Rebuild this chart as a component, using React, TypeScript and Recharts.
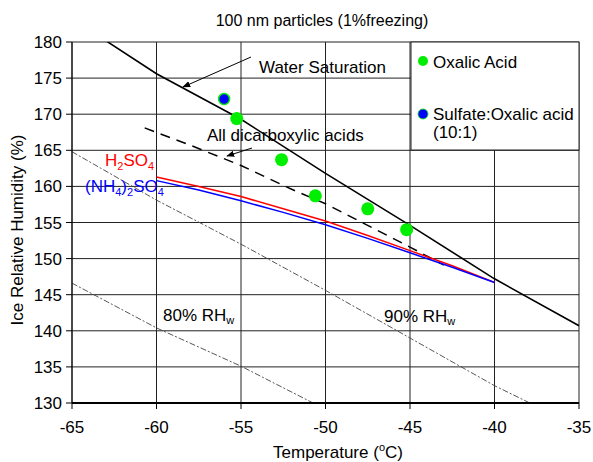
import React from "react";
import {
  ComposedChart,
  Line,
  Scatter,
  XAxis,
  YAxis,
  CartesianGrid,
} from "recharts";

// ─── DATA ─────────────────────────────────────────────────────────────────────

const TEMP_TICKS = [-65, -60, -55, -50, -45, -40, -35];
const RH_TICKS = [130, 135, 140, 145, 150, 155, 160, 165, 170, 175, 180];

// water saturation (solid black)
const WATER_T = [-63.6, -60, -55, -50, -45, -40, -35];
const WATER_RH = [181.1, 175.6, 169.3, 161.8, 154.6, 147.2, 140.7];

// all dicarboxylic acids (dashed black)
const DICARB_T = [-60.7, -58, -55, -52, -50, -45, -43];
const DICARB_RH = [168.1, 165.7, 162.9, 159.6, 157.6, 151.6, 149.1];

// H2SO4 (red)
const H2SO4_T = [-60, -57.5, -55, -52.5, -50, -47.5, -45, -42.5, -40];
const H2SO4_RH = [161.3, 160.0, 158.6, 156.9, 155.2, 153.2, 151.1, 149.0, 146.7];

// (NH4)2SO4 (blue)
const AS_T = [-60, -57.5, -55, -52.5, -50, -47.5, -45, -42.5, -40];
const AS_RH = [160.8, 159.5, 158.0, 156.4, 154.7, 152.8, 150.8, 148.8, 146.7];

// 90% RHw (thin dashed)
const RH90_T = [-65, -60, -55, -50, -45, -40, -37.3];
const RH90_RH = [164.8, 158.1, 152.0, 145.6, 139.0, 132.4, 129.3];

// 80% RHw (thin dashed)
const RH80_T = [-65, -60, -55, -50.15];
const RH80_RH = [146.6, 140.4, 135.1, 129.3];

// oxalic acid points
const OXALIC_T = [-55.25, -52.6, -50.6, -47.5, -45.2];
const OXALIC_RH = [169.4, 163.7, 158.7, 156.9, 154.0];

// sulfate:oxalic acid (10:1)
const SULF_OX_T = [-56.0];
const SULF_OX_RH = [172.1];

const zip = (xs: number[], ys: number[]) => xs.map((x, i) => ({ x, y: ys[i] }));

const FONT = "'Liberation Sans', Arial, sans-serif";
const GREEN = "#00ee00";

// ─── SHAPES ───────────────────────────────────────────────────────────────────

function OxalicDot(props: any) {
  const { cx, cy } = props;
  return <circle cx={cx} cy={cy} r={6.5} fill={GREEN} />;
}

function SulfDot(props: any) {
  const { cx, cy } = props;
  return <circle cx={cx} cy={cy} r={5.5} fill="#0000ff" stroke={GREEN} strokeWidth={1.5} />;
}

// ─── MAIN ─────────────────────────────────────────────────────────────────────

export default function App() {
  return (
    <div style={{ position: "absolute", left: 0, top: 0, background: "#fff" }}>
      <ComposedChart
        width={593}
        height={462}
        margin={{ top: 42, right: 14, bottom: 0, left: 0 }}
        style={{ fontFamily: FONT }}
      >
        <defs>
          <marker
            id="arrowHead"
            viewBox="0 0 10 10"
            refX="9"
            refY="5"
            markerWidth="8"
            markerHeight="8"
            orient="auto"
          >
            <path d="M0,1 L10,5 L0,9 z" fill="#000" />
          </marker>
        </defs>

        <CartesianGrid
          stroke="#222"
          strokeWidth={1}
          horizontalValues={RH_TICKS}
          verticalValues={TEMP_TICKS}
        />
        <XAxis
          type="number"
          dataKey="x"
          domain={[-65, -35]}
          ticks={TEMP_TICKS}
          allowDataOverflow
          height={59}
          tickSize={6}
          tickMargin={12}
          tick={{ fill: "#000", fontSize: 17 }}
          axisLine={{ stroke: "#000", strokeWidth: 2 }}
          tickLine={{ stroke: "#000" }}
        />
        <YAxis
          type="number"
          dataKey="y"
          domain={[130, 180]}
          ticks={RH_TICKS}
          allowDataOverflow
          width={72}
          tickSize={6}
          tickMargin={4}
          tick={{ fill: "#000", fontSize: 17 }}
          axisLine={{ stroke: "#000" }}
          tickLine={{ stroke: "#000" }}
        />

        {/* legend box covering the grid */}
        <rect x={411} y={42} width={168} height={108} fill="#fff" stroke="#222" strokeWidth={1} />

        <Line
          data={zip(RH80_T, RH80_RH)}
          dataKey="y"
          stroke="#444"
          strokeWidth={0.9}
          strokeDasharray="6 2 2 2"
          dot={false}
          isAnimationActive={false}
        />
        <Line
          data={zip(RH90_T, RH90_RH)}
          dataKey="y"
          stroke="#444"
          strokeWidth={0.9}
          strokeDasharray="6 2 2 2"
          dot={false}
          isAnimationActive={false}
        />
        <Line
          data={zip(DICARB_T, DICARB_RH)}
          dataKey="y"
          stroke="#000"
          strokeWidth={1.5}
          strokeDasharray="10 7"
          dot={false}
          isAnimationActive={false}
        />
        <Line
          data={zip(H2SO4_T, H2SO4_RH)}
          dataKey="y"
          stroke="#ff0000"
          strokeWidth={1.5}
          dot={false}
          isAnimationActive={false}
        />
        <Line
          data={zip(AS_T, AS_RH)}
          dataKey="y"
          stroke="#0000ff"
          strokeWidth={1.5}
          dot={false}
          isAnimationActive={false}
        />
        <Line
          data={zip(WATER_T, WATER_RH)}
          dataKey="y"
          stroke="#000"
          strokeWidth={1.6}
          dot={false}
          isAnimationActive={false}
        />
        <Scatter data={zip(OXALIC_T, OXALIC_RH)} dataKey="y" shape={<OxalicDot />} isAnimationActive={false} />
        <Scatter data={zip(SULF_OX_T, SULF_OX_RH)} dataKey="y" shape={<SulfDot />} isAnimationActive={false} />

        {/* title & axis labels */}
        <text x={322} y={26} textAnchor="middle" fontSize={16} fill="#000">
          100 nm particles (1%freezing)
        </text>
        <text x={338} y={458} textAnchor="middle" fontSize={17} fill="#000">
          Temperature (
          <tspan fontSize={11} dy={-7}>o</tspan>
          <tspan dy={7}>C)</tspan>
        </text>
        <text
          x={0}
          y={0}
          transform="translate(23,230) rotate(-90)"
          textAnchor="middle"
          fontSize={17}
          fill="#000"
        >
          Ice Relative Humidity (%)
        </text>

        {/* annotations */}
        <text x={259} y={73} fontSize={17} fill="#000">Water Saturation</text>
        <line x1={251} y1={57} x2={183} y2={87} stroke="#000" strokeWidth={1} markerEnd="url(#arrowHead)" />
        <text x={207} y={141} fontSize={17} fill="#000">All dicarboxylic acids</text>
        <line x1={252} y1={148} x2={227} y2={156} stroke="#000" strokeWidth={1} markerEnd="url(#arrowHead)" />

        <text x={105} y={166} fontSize={17} fill="#ff0000">
          H<tspan fontSize={11} dy={4}>2</tspan>
          <tspan dy={-4}>SO</tspan>
          <tspan fontSize={11} dy={4}>4</tspan>
        </text>
        <text x={85} y={192} fontSize={17} fill="#0000ff">
          (NH<tspan fontSize={11} dy={4}>4</tspan>
          <tspan dy={-4}>)</tspan>
          <tspan fontSize={11} dy={4}>2</tspan>
          <tspan dy={-4}>SO</tspan>
          <tspan fontSize={11} dy={4}>4</tspan>
        </text>
        <text x={163} y={321} fontSize={17} fill="#000">
          80% RH<tspan fontSize={11} dy={3}>w</tspan>
        </text>
        <text x={384} y={322} fontSize={17} fill="#000">
          90% RH<tspan fontSize={11} dy={3}>w</tspan>
        </text>

        {/* legend */}
        <circle cx={423} cy={61} r={5} fill={GREEN} />
        <text x={433} y={68} fontSize={17} fill="#000">Oxalic Acid</text>
        <circle cx={423} cy={114} r={5} fill="#0000ff" stroke={GREEN} strokeWidth={0.8} />
        <text x={433} y={120} fontSize={17} fill="#000">Sulfate:Oxalic acid</text>
        <text x={433} y={138} fontSize={17} fill="#000">(10:1)</text>
      </ComposedChart>
    </div>
  );
}
